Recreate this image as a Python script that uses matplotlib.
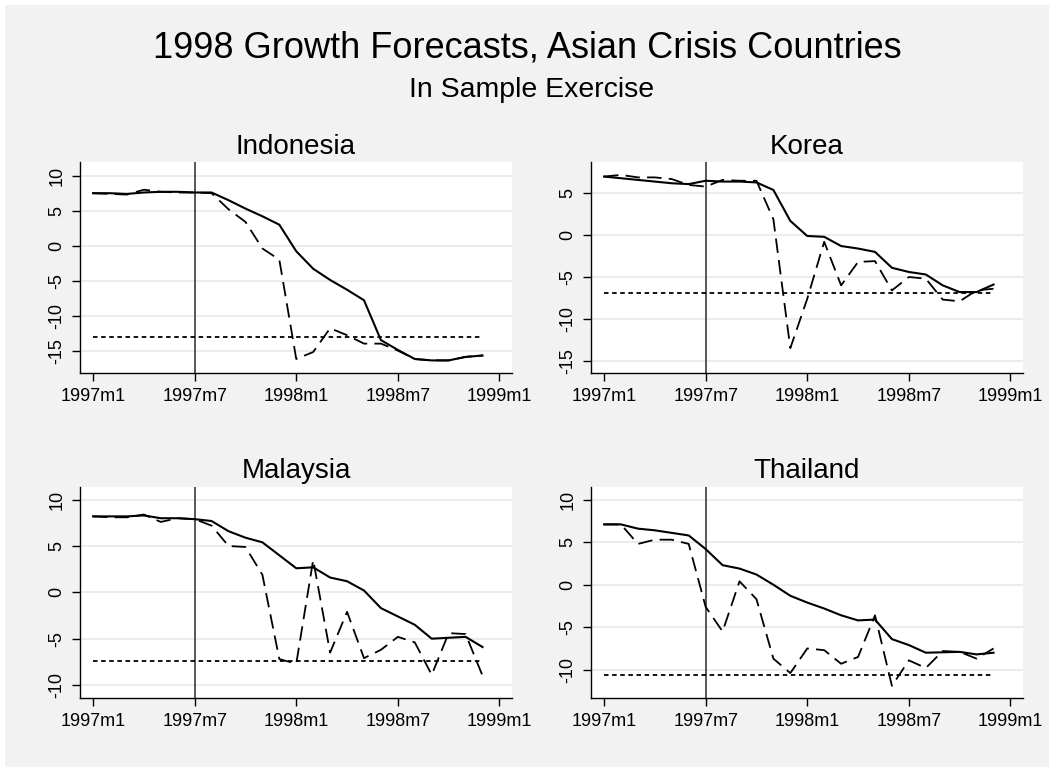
import numpy as np
import matplotlib
matplotlib.use("Agg")
import matplotlib.pyplot as plt
from matplotlib.patches import Rectangle

plt.rcParams['font.family'] = ['Liberation Sans', 'DejaVu Sans']

# ---- data (monthly, 1997m1 .. 1998m12) ----
months = np.arange(24)
tick_pos = [0, 6, 12, 18, 24]
tick_labels = ['1997m1', '1997m7', '1998m1', '1998m7', '1999m1']
cutoff = 6  # 1997m7

indo_actual = [7.5, 7.5, 7.4, 7.6, 7.7, 7.7, 7.6, 7.6, 6.5, 5.3, 4.2, 3.0,
               -0.8, -3.3, -4.9, -6.3, -7.8, -13.5, -14.9, -16.2, -16.4, -16.4, -15.9, -15.7]
indo_model = [7.5, 7.4, 7.3, 8.0, 7.7, 7.6, 7.6, 7.5, 5.2, 3.4, -0.4, -2.0,
              -16.2, -15.2, -11.8, -12.8, -14.0, -14.0, -15.0, -16.2, -16.4, -16.4, -15.9, -15.7]
indo_bench = -13.1

korea_actual = [7.0, 6.8, 6.6, 6.4, 6.2, 6.1, 6.5, 6.4, 6.4, 6.3, 5.4, 1.7,
                -0.1, -0.2, -1.3, -1.6, -2.0, -3.9, -4.4, -4.7, -6.0, -6.8, -6.8, -5.9]
korea_model = [7.0, 7.2, 6.9, 6.9, 6.7, 6.0, 5.8, 6.6, 6.5, 6.5, 1.9, -13.5,
               -7.6, -0.8, -6.0, -3.2, -3.1, -6.6, -5.0, -5.2, -7.7, -7.9, -6.6, -6.4]
korea_bench = -6.9

malay_actual = [8.2, 8.2, 8.2, 8.3, 8.0, 8.0, 7.9, 7.7, 6.6, 5.9, 5.4, 4.0,
                2.6, 2.7, 1.6, 1.2, 0.2, -1.7, -2.6, -3.5, -5.0, -4.9, -4.8, -5.9]
malay_model = [8.2, 8.1, 8.1, 8.4, 7.6, 8.0, 7.9, 7.2, 5.0, 4.9, 1.9, -7.2,
               -7.7, 3.5, -6.5, -2.1, -7.1, -6.2, -4.8, -5.4, -8.9, -4.4, -4.5, -9.0]
malay_bench = -7.4

thai_actual = [7.1, 7.1, 6.6, 6.4, 6.1, 5.8, 4.2, 2.3, 1.9, 1.2, 0.0, -1.3,
               -2.1, -2.8, -3.6, -4.2, -4.1, -6.4, -7.1, -8.0, -7.95, -7.9, -8.2, -8.0]
thai_model = [7.1, 7.1, 4.8, 5.3, 5.3, 4.8, -2.6, -5.5, 0.4, -1.7, -8.7, -10.4,
              -7.5, -7.7, -9.3, -8.5, -3.6, -11.9, -8.9, -9.8, -7.8, -7.9, -8.7, -7.5]
thai_bench = -10.6

W, H = 1054, 773
fig = plt.figure(figsize=(W / 100, H / 100), dpi=100, facecolor='white')
fig.patches.append(Rectangle((5 / W, 6 / H), 1044 / W, 762 / H, transform=fig.transFigure,
                             facecolor='#f2f2f2', edgecolor='none', zorder=-10))

fig.text(527 / W, 1 - 58 / H, '1998 Growth Forecasts, Asian Crisis Countries',
         ha='center', va='baseline', fontsize=26)
fig.text(532 / W, 1 - 97 / H, 'In Sample Exercise', ha='center', va='baseline', fontsize=20.5)

panels = [
    ('Indonesia', indo_actual, indo_model, indo_bench, (80, 162, 512, 373), (-18.2, 11.96), [10, 5, 0, -5, -10, -15], 154),
    ('Korea', korea_actual, korea_model, korea_bench, (591, 162, 1023, 373), (-16.47, 8.74), [5, 0, -5, -10, -15], 154),
    ('Malaysia', malay_actual, malay_model, malay_bench, (80, 487, 512, 698), (-11.4, 11.37), [10, 5, 0, -5, -10], 478),
    ('Thailand', thai_actual, thai_model, thai_bench, (591, 487, 1023, 698), (-13.33, 11.5), [10, 5, 0, -5, -10], 478),
]

for name, actual, model, bench, (l, t, r, b), ylim, yticks, title_y in panels:
    ax = fig.add_axes([l / W, 1 - b / H, (r - l) / W, (b - t) / H])
    ax.set_facecolor('white')
    ax.set_xlim(-0.77, 24.74)
    ax.set_ylim(*ylim)
    ax.set_yticks(yticks)
    ax.set_yticklabels([f'{v:g}' for v in yticks], rotation=90, va='center', fontsize=13)
    ax.set_xticks(tick_pos)
    ax.set_xticklabels(tick_labels, fontsize=13)
    ax.grid(axis='y', color='#eaeaea', linewidth=1.3)
    ax.set_axisbelow(True)
    for s in ['top', 'right']:
        ax.spines[s].set_visible(False)
    for s in ['left', 'bottom']:
        ax.spines[s].set_color('black')
        ax.spines[s].set_linewidth(1.0)
    ax.tick_params(direction='out', length=5.5, width=1.0, colors='black', pad=5)
    ax.axvline(cutoff, color='#3c3c3c', linewidth=1.2, zorder=1)
    ax.plot([months[0], months[-1]], [bench, bench], color='black', linewidth=1.3,
            linestyle=(0, (2.5, 2.0)), zorder=2)
    ax.plot(months, model, color='black', linewidth=1.3, linestyle=(0, (8, 4)), zorder=3)
    ax.plot(months, actual, color='black', linewidth=1.5, linestyle='-', zorder=4)
    fig.text((l + r) / 2 / W, 1 - title_y / H, name, ha='center', va='baseline', fontsize=20)

fig.savefig('out.png', dpi=100, facecolor=fig.get_facecolor())
